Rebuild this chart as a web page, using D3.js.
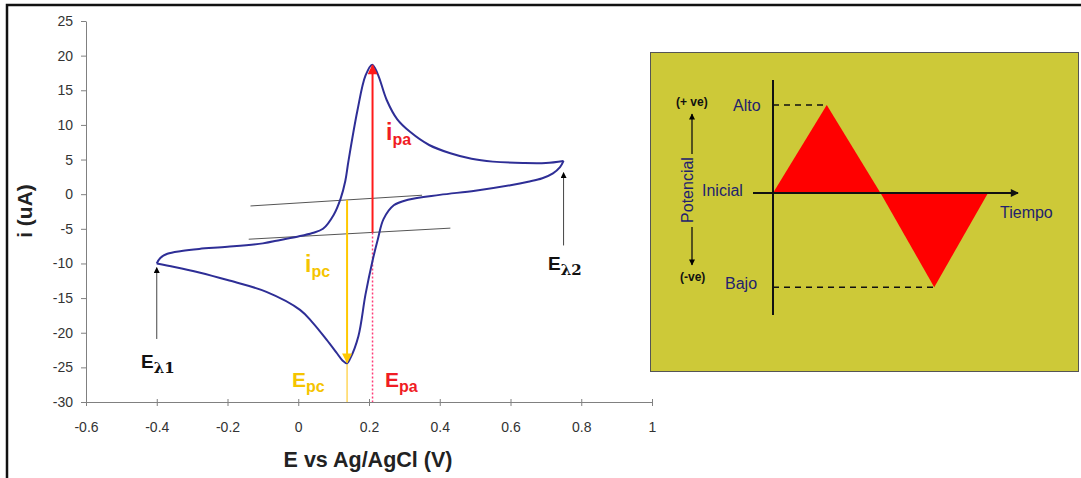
<!DOCTYPE html>
<meta charset="utf-8">
<style>
body { margin: 0; background: #fff; }
text { font-family: "Liberation Sans", Arial, sans-serif; }
.tick text { font-size: 14px; fill: #333; }
.axis path, .axis line { stroke: #808080; }
.panelTxt { font-size: 16px; fill: #22226e; }
</style>
<body>
<script src="https://d3js.org/d3.v7.min.js"></script>
<script>
// tick values
const xTicks = [-0.6, -0.4, -0.2, 0, 0.2, 0.4, 0.6, 0.8, 1];
const yTicks = [-30, -25, -20, -15, -10, -5, 0, 5, 10, 15, 20, 25];

// forward (anodic) scan, E in V, i in uA
const fwdE = [-0.4, -0.39, -0.37, -0.33, -0.28, -0.2, -0.1, -0.05, 0, 0.04, 0.07, 0.1, 0.12, 0.133, 0.142, 0.167, 0.19, 0.209, 0.225, 0.25, 0.28, 0.316, 0.37, 0.43, 0.49, 0.55, 0.635, 0.7, 0.75];
const fwdI = [-10, -9.2, -8.6, -8.2, -7.9, -7.6, -7.1, -6.6, -6.1, -5.6, -5.0, -3.0, -0.6, 1.9, 4.8, 12, 17.1, 18.7, 17.3, 13.6, 10.8, 9.0, 7.1, 5.9, 5.1, 4.7, 4.5, 4.5, 4.8];

// reverse (cathodic) scan
const revE = [0.75, 0.74, 0.72, 0.69, 0.65, 0.6, 0.5, 0.4, 0.31, 0.27, 0.241, 0.225, 0.21, 0.19, 0.17, 0.147, 0.138, 0.125, 0.11, 0.08, 0.04, 0.005, -0.09, -0.2, -0.28, -0.35, -0.4];
const revI = [4.8, 3.9, 3.0, 2.3, 1.8, 1.3, 0.5, -0.1, -0.8, -1.6, -3.6, -6.5, -9.6, -14.5, -20.5, -23.7, -24.4, -24.0, -23.0, -21.0, -18.5, -16.7, -14.1, -12.4, -11.3, -10.5, -10];

// extrapolated baselines
const baseUpE = [-0.135, 0.35], baseUpI = [-1.7, -0.15];
const baseLoE = [-0.14, 0.43], baseLoI = [-6.5, -4.9];

// peaks and switching potentials
const Epa = 0.21, ipaTop = 18.6;
const Epc = 0.138, ipcBottom = -24.3;
const Elambda = [-0.4, 0.75];
const lambdaArrow = [[-20.9, -10.6], [-7.4, 3.1]];

// triangular potential waveform (right panel)
const waveT = [0, 1, 2, 3, 4];
const waveV = [0, 1, 0, -1.07, 0];

const width = 1081, height = 478;
const svg = d3.select("body").append("svg")
    .attr("width", width).attr("height", height);

svg.append("defs").selectAll("marker")
    .data([["arRed", "#ff1a1a", 12, 10], ["arYel", "#ffc800", 12, 10], ["arBlk", "#000", 7, 6], ["arBlk2", "#111", 10, 8]])
    .join("marker")
      .attr("id", d => d[0])
      .attr("viewBox", "0 0 10 10")
      .attr("refX", 9).attr("refY", 5)
      .attr("markerUnits", "userSpaceOnUse")
      .attr("markerWidth", d => d[2]).attr("markerHeight", d => d[3])
      .attr("orient", "auto")
    .append("path")
      .attr("d", "M0,0L10,5L0,10z")
      .attr("fill", d => d[1]);

// frame (cropped screenshot border)
svg.append("path").attr("d", "M7,478V5H1081")
    .attr("fill", "none").attr("stroke", "#111").attr("stroke-width", 2.5);

const x = d3.scaleLinear().domain([-0.6, 1]).range([86, 652]);
const y = d3.scaleLinear().domain([-30, 25]).range([402, 21]);

svg.append("g").attr("class", "axis")
    .attr("transform", `translate(0,${y(-30)})`)
    .call(d3.axisBottom(x).tickValues(xTicks).tickSize(4).tickPadding(16).tickFormat(d => String(d)))
    .call(g => g.selectAll(".tick line").attr("y1", -3));

svg.append("g").attr("class", "axis")
    .attr("transform", `translate(${x(-0.6)},0)`)
    .call(d3.axisLeft(y).tickValues(yTicks).tickSize(5).tickPadding(8).tickSizeOuter(0).tickFormat(d => String(d)));

svg.selectAll(".axis text").attr("font-family", null);

// axis titles
svg.append("text")
    .attr("transform", `translate(32,211) rotate(-90)`)
    .attr("text-anchor", "middle")
    .attr("font-size", 21).attr("font-weight", "bold").attr("fill", "#222")
    .text("i (uA)");
svg.append("text")
    .attr("x", 368).attr("y", 467)
    .attr("text-anchor", "middle")
    .attr("font-size", 21.5).attr("font-weight", "bold").attr("fill", "#222")
    .text("E vs Ag/AgCl (V)");

// baselines
const lineXY = (es, is) => d3.line()(es.map((e, k) => [x(e), y(is[k])]));
svg.append("path").attr("d", lineXY(baseUpE, baseUpI))
    .attr("fill", "none").attr("stroke", "#555").attr("stroke-width", 1);
svg.append("path").attr("d", lineXY(baseLoE, baseLoI))
    .attr("fill", "none").attr("stroke", "#555").attr("stroke-width", 1);

const interp = (es, is, e) => is[0] + (e - es[0]) * (is[1] - is[0]) / (es[1] - es[0]);
const ipaBase = interp(baseLoE, baseLoI, Epa);
const ipcBase = interp(baseUpE, baseUpI, Epc);

// Epa dotted drop, Epc drop
svg.append("line")
    .attr("x1", x(Epa)).attr("x2", x(Epa)).attr("y1", y(ipaBase)).attr("y2", y(-30))
    .attr("stroke", "#ff3c78").attr("stroke-width", 1.5).attr("stroke-dasharray", "2,2");
svg.append("line")
    .attr("x1", x(Epc)).attr("x2", x(Epc)).attr("y1", y(ipcBottom)).attr("y2", y(-30))
    .attr("stroke", "#ffcc33").attr("stroke-width", 1.2);

// CV curve
const curve = d3.line().curve(d3.curveCatmullRom.alpha(0.5));
svg.append("path").attr("d", curve(fwdE.map((e, k) => [x(e), y(fwdI[k])])))
    .attr("fill", "none").attr("stroke", "#2e2e96").attr("stroke-width", 2);
svg.append("path").attr("d", curve(revE.map((e, k) => [x(e), y(revI[k])])))
    .attr("fill", "none").attr("stroke", "#2e2e96").attr("stroke-width", 2);

// peak current arrows
svg.append("line")
    .attr("x1", x(Epa)).attr("x2", x(Epa)).attr("y1", y(ipaBase)).attr("y2", y(ipaTop))
    .attr("stroke", "#ff1a1a").attr("stroke-width", 2).attr("marker-end", "url(#arRed)");
svg.append("line")
    .attr("x1", x(Epc)).attr("x2", x(Epc)).attr("y1", y(ipcBase)).attr("y2", y(ipcBottom))
    .attr("stroke", "#ffc800").attr("stroke-width", 2).attr("marker-end", "url(#arYel)");

// switching potential arrows
svg.selectAll(".lam").data(Elambda).join("line")
    .attr("x1", d => x(d)).attr("x2", d => x(d))
    .attr("y1", (d, k) => y(lambdaArrow[k][0])).attr("y2", (d, k) => y(lambdaArrow[k][1]))
    .attr("stroke", "#444").attr("stroke-width", 1).attr("marker-end", "url(#arBlk)");

// subscript labels
function subLabel(px, py, main, sub, color, big, small, subFont) {
    const t = svg.append("text").attr("x", px).attr("y", py)
        .attr("fill", color).attr("font-weight", "bold");
    t.append("tspan").attr("font-size", big).text(main);
    t.append("tspan").attr("font-size", small).attr("dy", 5)
        .attr("font-family", subFont || null).text(sub);
}
subLabel(386, 140, "i", "pa", "#f01c24", 23, 16);
subLabel(305, 272, "i", "pc", "#f5c400", 23, 16);
subLabel(385, 387, "E", "pa", "#f01c24", 21, 16);
subLabel(292, 387, "E", "pc", "#f5c400", 21, 16);
subLabel(141, 368, "E", "λ1", "#111", 19, 15, "DejaVu Serif");
subLabel(548, 270, "E", "λ2", "#111", 19, 15, "DejaVu Serif");

// ---------- right panel: potential waveform ----------
svg.append("rect")
    .attr("x", 650.5).attr("y", 52.5).attr("width", 428).attr("height", 319)
    .attr("fill", "#cdc938").attr("stroke", "#555").attr("stroke-width", 1);

const t = d3.scaleLinear().domain([0, 4]).range([773, 988]);
const v = d3.scaleLinear().domain([0, 1]).range([193, 105]);

// filled triangles
svg.append("path")
    .attr("d", d3.line()(waveT.slice(0, 3).map((d, k) => [t(d), v(waveV[k])])) + "Z")
    .attr("fill", "#ff0000");
svg.append("path")
    .attr("d", d3.line()(waveT.slice(2).map((d, k) => [t(d), v(waveV[k + 2])])) + "Z")
    .attr("fill", "#ff0000");

// dashed level guides
svg.append("line").attr("x1", t(0)).attr("x2", t(1)).attr("y1", v(1)).attr("y2", v(1))
    .attr("stroke", "#111").attr("stroke-width", 1.5).attr("stroke-dasharray", "6,5");
svg.append("line").attr("x1", t(0)).attr("x2", t(3)).attr("y1", v(-1.07)).attr("y2", v(-1.07))
    .attr("stroke", "#111").attr("stroke-width", 1.5).attr("stroke-dasharray", "6,5");

// axes of the panel
svg.append("line").attr("x1", t(0)).attr("x2", t(0)).attr("y1", 80).attr("y2", 315)
    .attr("stroke", "#111").attr("stroke-width", 2);
svg.append("line").attr("x1", 753).attr("x2", 1018).attr("y1", v(0)).attr("y2", v(0))
    .attr("stroke", "#111").attr("stroke-width", 2).attr("marker-end", "url(#arBlk2)");

// potential arrows
svg.append("line").attr("x1", 692).attr("x2", 692).attr("y1", 154).attr("y2", 114)
    .attr("stroke", "#111").attr("stroke-width", 1.3).attr("marker-end", "url(#arBlk)");
svg.append("line").attr("x1", 692).attr("x2", 692).attr("y1", 227).attr("y2", 265)
    .attr("stroke", "#111").attr("stroke-width", 1.3).attr("marker-end", "url(#arBlk)");

svg.append("text").attr("class", "panelTxt").attr("x", 733).attr("y", 111).text("Alto");
svg.append("text").attr("class", "panelTxt").attr("x", 702).attr("y", 196).text("Inicial");
svg.append("text").attr("class", "panelTxt").attr("x", 725).attr("y", 289).text("Bajo");
svg.append("text").attr("class", "panelTxt").attr("x", 1000).attr("y", 218).text("Tiempo");
svg.append("text").attr("class", "panelTxt")
    .attr("transform", "translate(693,190) rotate(-90)")
    .attr("text-anchor", "middle").text("Potencial");
svg.append("text").attr("x", 676).attr("y", 106)
    .attr("font-size", 12).attr("font-weight", "bold").attr("fill", "#111").text("(+ ve)");
svg.append("text").attr("x", 680).attr("y", 281)
    .attr("font-size", 12).attr("font-weight", "bold").attr("fill", "#111").text("(-ve)");
</script>
</body>
